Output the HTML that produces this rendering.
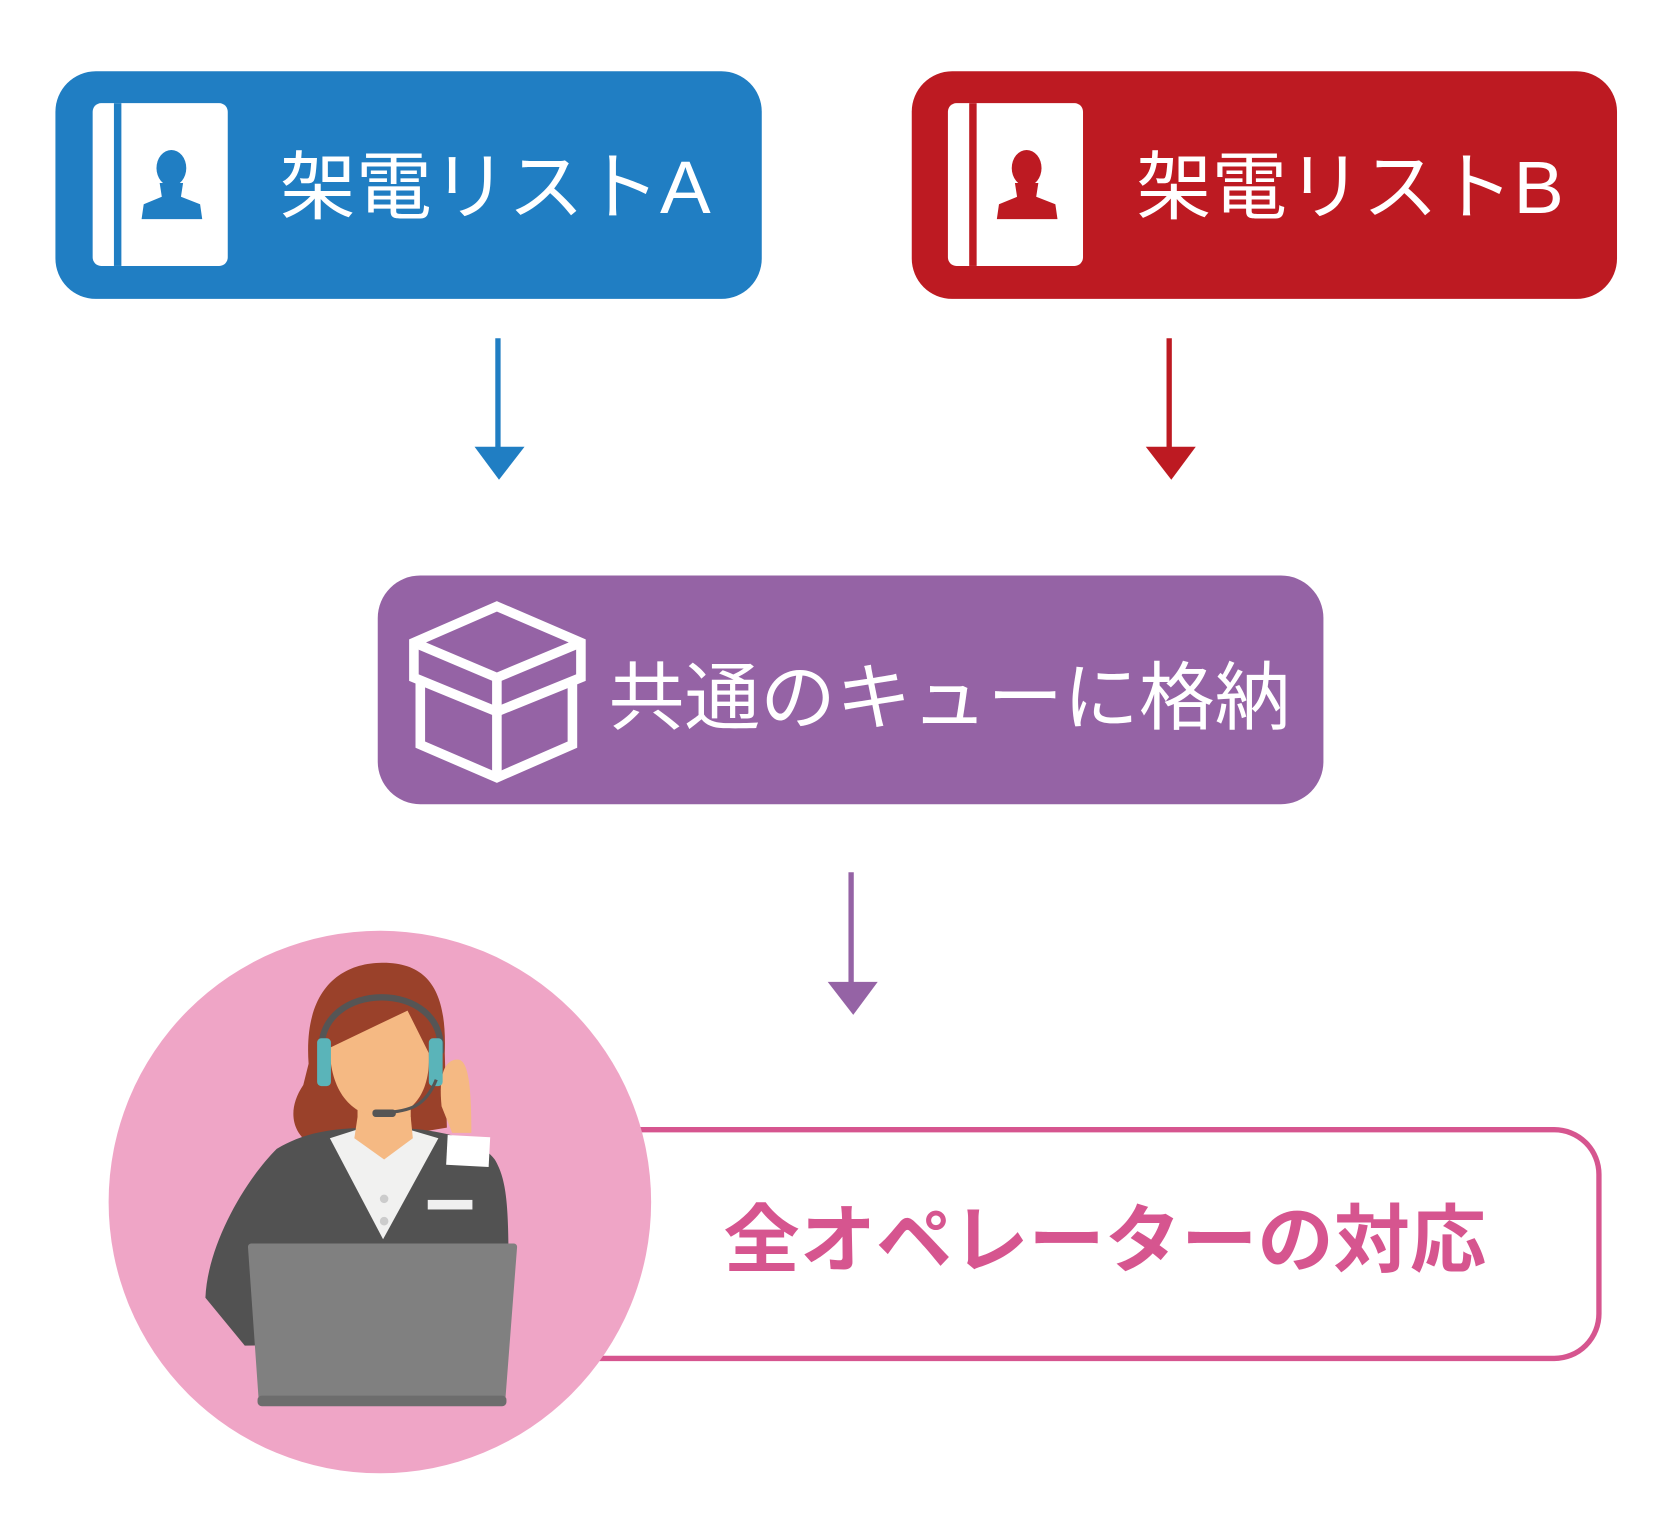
<!DOCTYPE html>
<html><head><meta charset="utf-8"><style>
html,body{margin:0;padding:0;background:#fff;}
svg{display:block}
text{font-family:"Liberation Sans","Noto Sans CJK JP",sans-serif;}
</style></head><body>
<svg width="1665" height="1535" viewBox="0 0 1565 1443" xmlns="http://www.w3.org/2000/svg">
<!-- Box A -->
<rect x="52" y="67" width="664" height="214" rx="38" fill="#207ec3"/>
<rect x="87" y="97" width="127" height="153" rx="8" fill="#fff"/>
<rect x="107" y="97" width="7" height="153" fill="#207ec3"/>
<g fill="#207ec3">
<ellipse cx="161" cy="158" rx="14" ry="17"/>
<path d="M150 172 L172 172 L170 185 L188 192 L190 206 L133 206 L135 192 L152 185Z"/>
</g>
<text x="263" y="200" font-size="70" fill="#fff" textLength="405" lengthAdjust="spacingAndGlyphs">架電リストA</text>
<!-- Box B -->
<rect x="857" y="67" width="663" height="214" rx="38" fill="#bd1a22"/>
<rect x="891" y="97" width="127" height="153" rx="8" fill="#fff"/>
<rect x="911" y="97" width="7" height="153" fill="#bd1a22"/>
<g fill="#bd1a22">
<ellipse cx="965" cy="158" rx="14" ry="17"/>
<path d="M954 172 L976 172 L974 185 L992 192 L994 206 L937 206 L939 192 L956 185Z"/>
</g>
<text x="1068" y="200" font-size="70" fill="#fff" textLength="402" lengthAdjust="spacingAndGlyphs">架電リストB</text>
<!-- arrows -->
<line x1="468" y1="318" x2="468" y2="422" stroke="#207ec3" stroke-width="5"/>
<polygon points="446,420 493,420 469,451" fill="#207ec3"/>
<line x1="1099" y1="318" x2="1099" y2="422" stroke="#bd1a22" stroke-width="5"/>
<polygon points="1077,420 1124,420 1101,451" fill="#bd1a22"/>
<!-- purple -->
<rect x="355" y="541" width="889" height="215" rx="40" fill="#9563a5"/>
<g fill="none" stroke="#fff" stroke-width="9" stroke-linejoin="miter">
<polygon points="467,570 546,604 546,637 467,669 389,637 389,604"/>
<line x1="389" y1="604" x2="467" y2="637"/>
<line x1="546" y1="604" x2="467" y2="637"/>
<line x1="467" y1="637" x2="467" y2="728"/>
<polyline points="395,640 395,700 467,731 538,700 538,640"/>
</g>
<text x="572" y="680" font-size="70" fill="#fff" textLength="641" lengthAdjust="spacingAndGlyphs">共通のキューに格納</text>
<line x1="800" y1="820" x2="800" y2="925" stroke="#9563a5" stroke-width="5"/>
<polygon points="778,923 825,923 802,954" fill="#9563a5"/>
<!-- pink box -->
<rect x="520" y="1062" width="983" height="215" rx="42" fill="#fff" stroke="#d6558f" stroke-width="5"/>
<text x="680" y="1190" font-size="70" font-weight="bold" fill="#d6558f" textLength="717" lengthAdjust="spacingAndGlyphs">全オペレーターの対応</text>
<!-- circle -->
<circle cx="357" cy="1130" r="255" fill="#efa5c6"/>
<!-- person -->
<path d="M290 1000 C285 930 320 905 360 905 C405 905 420 935 418 990 L420 1060 L300 1080 C275 1070 268 1045 285 1020 Z" fill="#9a412a"/>
<path d="M193 1220 C195 1170 230 1110 260 1080 C290 1062 320 1060 360 1060 C410 1060 450 1070 465 1090 C480 1115 478 1150 478 1260 L230 1265 Z" fill="#525252"/>
<path d="M310 1070 L360 1165 L412 1070 L385 1062 L335 1062Z" fill="#f1f1f0"/>
<rect x="336" y="1030" width="50" height="40" fill="#f5b983"/>
<path d="M333 1070 L361 1090 L388 1070 L386 1050 L336 1050Z" fill="#f5b983"/>
<path d="M310 985 L383 950 L403 990 C405 1030 385 1050 360 1050 C330 1050 310 1025 310 985Z" fill="#f5b983"/>
<path d="M415 1040 C412 1010 418 996 430 996 C440 996 443 1020 443 1065 L425 1065Z" fill="#f5b983"/>
<path d="M302 990 C298 920 420 920 414 990" fill="none" stroke="#555" stroke-width="6"/>
<rect x="298" y="976" width="13" height="45" rx="4" fill="#5ab4b9"/>
<rect x="403" y="976" width="13" height="45" rx="4" fill="#5ab4b9"/>
<path d="M410 1015 C400 1040 385 1045 360 1046" fill="none" stroke="#555" stroke-width="3"/>
<rect x="350" y="1043" width="22" height="7" rx="3" fill="#555"/>
<rect x="420" y="1068" width="40" height="28" fill="#fff" transform="rotate(3 440 1082)"/>
<rect x="402" y="1128" width="42" height="9" fill="#f0f0f0"/>
<circle cx="361" cy="1127" r="4" fill="#ccc"/><circle cx="361" cy="1148" r="4" fill="#ccc"/>
<path d="M236 1172 L483 1172 L472 1315 L246 1315 Z" fill="#808080" stroke="#808080" stroke-width="6" stroke-linejoin="round"/>
<rect x="242" y="1312" width="234" height="10" rx="4" fill="#6d6d6d"/>
</svg>
</body></html>
